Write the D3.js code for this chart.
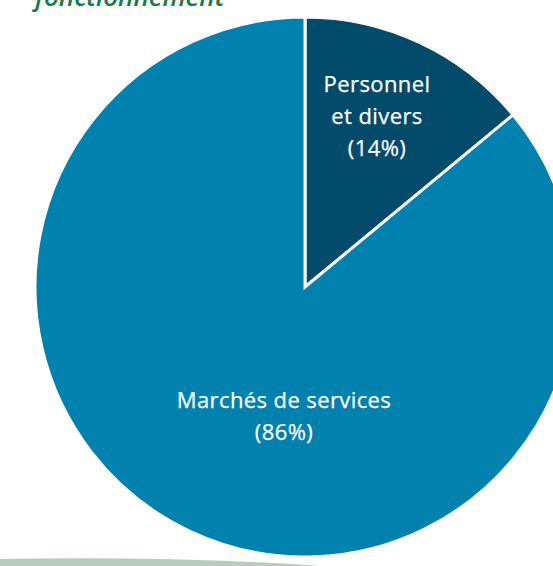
<!DOCTYPE html>
<html>
<head>
<meta charset="utf-8">
<script src="https://cdn.jsdelivr.net/npm/d3@7"></script>
<style>
  body { margin: 0; background: #fff; }
  svg { display: block; }
</style>
</head>
<body>
<svg id="chart" width="553" height="566"></svg>
<script>
// data
let categories = ["Personnel et divers", "Marchés de services"],
    values = [14, 86],
    label_lines = [["Personnel", "et divers", "(14%)"], ["Marchés de services", "(86%)"]],
    colors = ["#024b6b", "#0081ae"];

let width = 553,
    height = 566,
    cx = 305,
    cy = 287,
    radius = 270;

let svg = d3.select("#chart");

// title fragment, cut off at the top like in the source
svg.append("text")
  .attr("x", 35)
  .attr("y", 6)
  .attr("font-family", "'Open Sans', sans-serif")
  .attr("font-style", "italic")
  .attr("font-weight", 600)
  .attr("font-size", 26)
  .attr("fill", "#1b7a4c")
  .text("fonctionnement");

// decorative swoosh at the bottom
svg.append("path")
  .attr("d", "M0,559 Q180,556 320,566 L0,566 Z")
  .attr("fill", "#b8cbbc");

let pie = d3.pie().sort(null).value(d => d);
let arc = d3.arc().innerRadius(0).outerRadius(radius);

let g = svg.append("g").attr("transform", `translate(${cx},${cy})`);

g.selectAll("path")
  .data(pie(values)).enter()
  .append("path")
  .attr("d", arc)
  .attr("fill", (d, i) => colors[i])
  .attr("stroke", "#fff")
  .attr("stroke-width", 3);

// label positions (relative to centre)
let label_pos = [[72, -195], [-21, 121]];

g.selectAll("text.lbl")
  .data(label_lines).enter()
  .append("text")
  .attr("class", "lbl")
  .attr("text-anchor", "middle")
  .attr("font-family", "'Open Sans', sans-serif")
  .attr("font-size", 22)
  .attr("letter-spacing", 0.4)
  .attr("fill", "#fff")
  .attr("stroke", "#fff")
  .attr("stroke-width", 0.25)
  .attr("transform", (d, i) => `translate(${label_pos[i][0]},${label_pos[i][1]})`)
  .each(function(lines) {
    let t = d3.select(this);
    lines.forEach((l, j) => {
      t.append("tspan").attr("x", 0).attr("y", j * 32).text(l);
    });
  });
</script>
</body>
</html>
